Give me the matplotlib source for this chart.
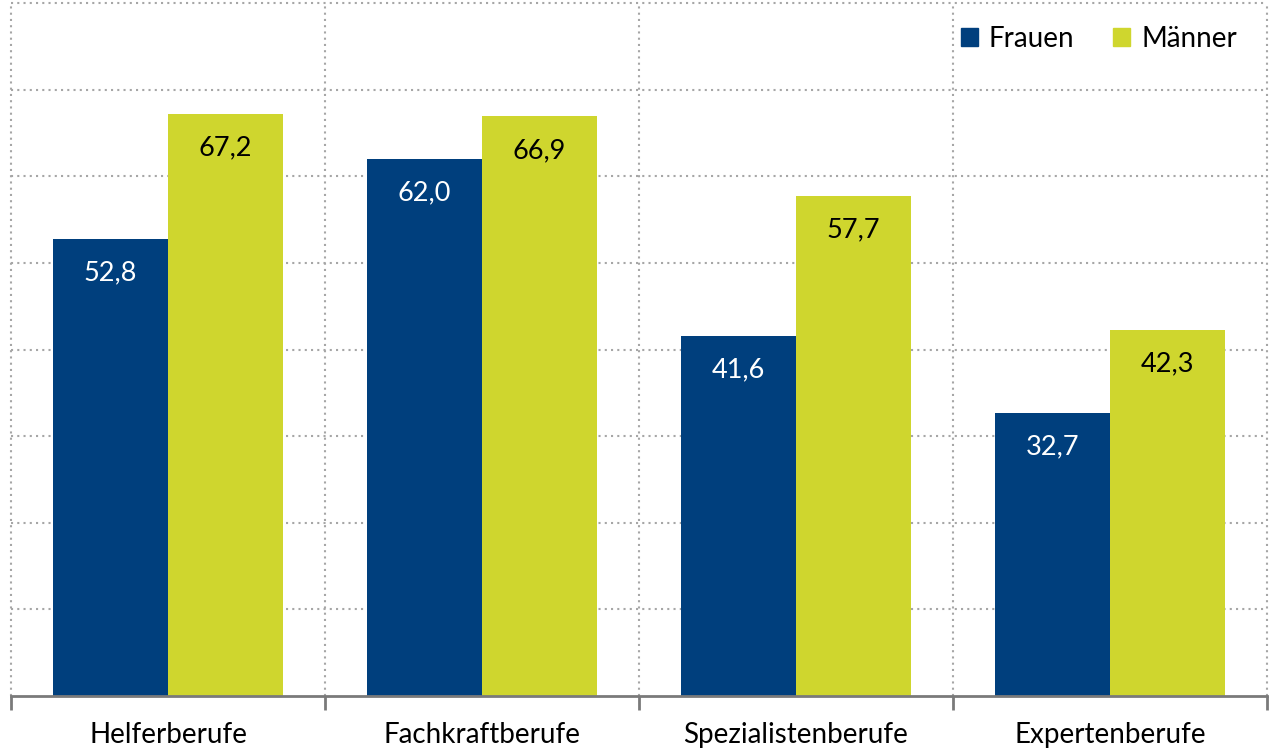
import numpy as np
import matplotlib.pyplot as plt
from matplotlib.patches import Patch

categories = ["Helferberufe", "Fachkraftberufe", "Spezialistenberufe", "Expertenberufe"]
frauen = [52.8, 62.0, 41.6, 32.7]
maenner = [67.2, 66.9, 57.7, 42.3]

navy = "#003f7d"
lime = "#cfd62e"
grid_col = "#a6a6a6"

plt.rcParams["font.family"] = ["Lato", "DejaVu Sans"]

fig = plt.figure(figsize=(12.71, 7.5), dpi=100)
ax = fig.add_axes([11 / 1271, 1 - 696 / 750, 1256 / 1271, 693 / 750])

x = np.arange(len(categories))
w = 0.366
b1 = ax.bar(x - w / 2, frauen, w, color=navy, zorder=3)
b2 = ax.bar(x + w / 2, maenner, w, color=lime, zorder=3)

ax.set_xlim(-0.5, len(categories) - 0.5)
ax.set_ylim(0, 80)

# dotted grid
for y in range(10, 90, 10):
    ax.axhline(y, color=grid_col, lw=1.5, ls=(0, (1, 2)), zorder=1, clip_on=False)
for xb in np.arange(-0.5, len(categories), 1.0):
    ax.axvline(xb, color=grid_col, lw=1.5, ls=(0, (1, 2)), zorder=1, clip_on=False)

for s in ["top", "right", "left"]:
    ax.spines[s].set_visible(False)
ax.spines["bottom"].set_color("#7a7a7a")
ax.spines["bottom"].set_linewidth(2)
ax.spines["bottom"].set_zorder(4)

ax.set_yticks([])
ax.set_xticks(np.arange(-0.5, len(categories), 1.0))
ax.set_xticklabels([])
ax.tick_params(axis="x", length=10, width=2, color="#7a7a7a")
for i, c in enumerate(categories):
    ax.text(i, -0.056, c, transform=ax.get_xaxis_transform(), ha="center", va="center",
            fontsize=20, color="black")

for rect, v in zip(b1, frauen):
    ax.annotate(f"{v:.1f}".replace(".", ","), (rect.get_x() + rect.get_width() / 2, v),
                xytext=(0, -34), textcoords="offset pixels", ha="center", va="center",
                fontsize=19.5, color="white", zorder=5)
for rect, v in zip(b2, maenner):
    ax.annotate(f"{v:.1f}".replace(".", ","), (rect.get_x() + rect.get_width() / 2, v),
                xytext=(0, -34), textcoords="offset pixels", ha="center", va="center",
                fontsize=19.5, color="black", zorder=5)

handles = [Patch(color=navy, label="Frauen"), Patch(color=lime, label="Männer")]
leg = ax.legend(handles=handles, loc="upper right", bbox_to_anchor=(0.996, 1.003), ncol=2,
                frameon=False, fontsize=20, handlelength=0.6, handleheight=0.6,
                handletextpad=0.4, columnspacing=1.4)

fig.savefig("out.png", dpi=100)
